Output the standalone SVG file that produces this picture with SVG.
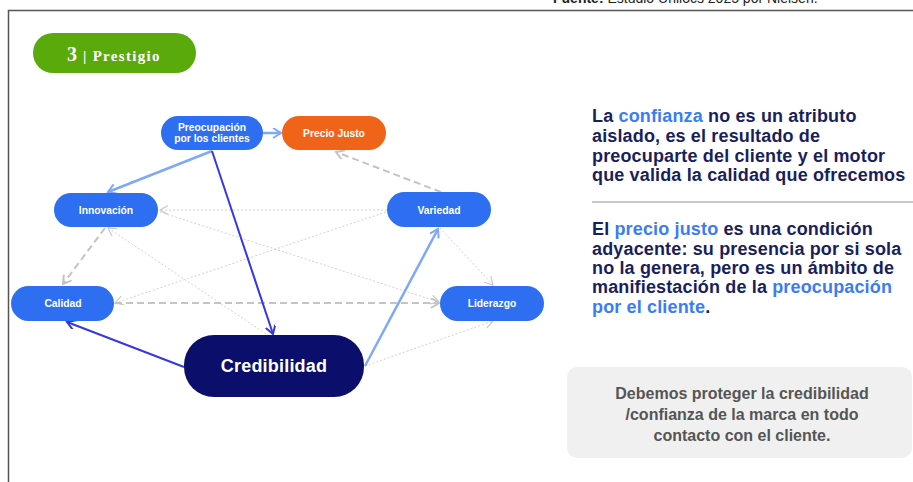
<svg xmlns="http://www.w3.org/2000/svg" width="913" height="482" viewBox="0 0 913 482">
<defs>
<style>
.node{fill:#2D6FF0}
.lbl{font-family:"Liberation Sans",Arial,sans-serif;font-weight:bold;fill:#fff;text-anchor:middle}
.sm{font-size:10.3px}
.lb{fill:none;stroke:#7FA8F8;stroke-width:2.5}
.db{fill:none;stroke:#3636E4;stroke-width:2}
.gd{fill:none;stroke:#C4C4C4;stroke-width:2;stroke-dasharray:7 4}
.gt{fill:none;stroke:#D2D2D2;stroke-width:1;stroke-dasharray:2 2}
.para{font-family:"Liberation Sans",Arial,sans-serif;font-weight:bold;font-size:18px;letter-spacing:0.15px;fill:#1A1F5C}
.hl{fill:#3B7CF5}
</style>
<marker id="aLB" markerUnits="userSpaceOnUse" markerWidth="12" markerHeight="12" refX="9" refY="5" orient="auto"><path d="M1,0 L9,5 L1,10" fill="none" stroke="#7FA8F8" stroke-width="2"/></marker>
<marker id="aDB" markerUnits="userSpaceOnUse" markerWidth="12" markerHeight="12" refX="9" refY="5" orient="auto"><path d="M1,0 L9,5 L1,10" fill="none" stroke="#3636E4" stroke-width="2"/></marker>
<marker id="aGD" markerUnits="userSpaceOnUse" markerWidth="12" markerHeight="12" refX="9" refY="5" orient="auto"><path d="M1,0 L9,5 L1,10" fill="none" stroke="#C4C4C4" stroke-width="2"/></marker>
<marker id="aGT" markerUnits="userSpaceOnUse" markerWidth="12" markerHeight="12" refX="9" refY="5" orient="auto"><path d="M1,0.5 L9,5 L1,9.5" fill="none" stroke="#C8C8C8" stroke-width="1.2"/></marker>
</defs>
<rect width="913" height="482" fill="#fff"/>
<text x="553" y="3" font-family="Liberation Sans,Arial,sans-serif" font-size="14" fill="#222"><tspan font-weight="bold">Fuente:</tspan> Estudio Unilocs 2025 por Nielsen.</text>
<path d="M8.5,482 V10.5 H913" fill="none" stroke="#555" stroke-width="1.5"/>

<g id="header">
<rect x="33" y="33" width="163" height="40" rx="20" fill="#5AAA0B"/>
<text x="67" y="61" font-family="Liberation Serif,Times New Roman,serif" font-weight="bold" font-size="20" fill="#fff">3<tspan font-size="15" dx="6" letter-spacing="1.3">| Prestigio</tspan></text>
</g>

<g id="connectors">
<line class="gt" x1="387" y1="210" x2="160" y2="210" marker-end="url(#aGT)"/>
<line class="gt" x1="386" y1="212" x2="115" y2="303" marker-end="url(#aGT)"/>
<line class="gt" x1="440" y1="228" x2="493" y2="285" marker-end="url(#aGT)"/>
<line class="gt" x1="160" y1="212" x2="439" y2="302" marker-end="url(#aGT)"/>
<line class="gt" x1="266" y1="334" x2="108" y2="228" marker-end="url(#aGT)"/>
<line class="gt" x1="365" y1="366" x2="493" y2="321" marker-end="url(#aGT)"/>
<line class="gd" x1="441" y1="192" x2="336" y2="152" marker-end="url(#aGD)"/>
<line class="gd" x1="105" y1="228" x2="63" y2="284" marker-end="url(#aGD)"/>
<line class="gd" x1="115" y1="303" x2="439" y2="303" marker-end="url(#aGD)"/>
<line class="lb" x1="263" y1="133" x2="281" y2="133" marker-end="url(#aLB)"/>
<line class="lb" x1="212" y1="151" x2="108" y2="192" marker-end="url(#aLB)"/>
<line class="lb" x1="365" y1="366" x2="438" y2="229" marker-end="url(#aLB)"/>
<line class="db" x1="212" y1="151" x2="273" y2="334" marker-end="url(#aDB)"/>
<line class="db" x1="184" y1="367" x2="67" y2="322" marker-end="url(#aDB)"/>
</g>

<g id="preocupacion">
<rect class="node" x="161" y="116" width="102" height="34" rx="17"/>
<text class="lbl sm" x="212" y="131">Preocupación</text>
<text class="lbl sm" x="212" y="142">por los clientes</text>
</g>
<g id="precio-justo">
<rect x="282" y="116" width="104" height="34" rx="17" fill="#F0641A"/>
<text class="lbl sm" x="334" y="137">Precio Justo</text>
</g>
<g id="innovacion">
<rect class="node" x="54" y="193" width="104" height="34" rx="17"/>
<text class="lbl sm" x="106" y="214">Innovación</text>
</g>
<g id="variedad">
<rect class="node" x="387" y="192" width="104" height="35" rx="17.5"/>
<text class="lbl sm" x="439" y="213.5">Variedad</text>
</g>
<g id="calidad">
<rect class="node" x="11" y="286" width="103" height="35" rx="17.5"/>
<text class="lbl sm" x="63" y="307">Calidad</text>
</g>
<g id="liderazgo">
<rect class="node" x="440" y="286" width="104" height="35" rx="17.5"/>
<text class="lbl sm" x="492" y="307">Liderazgo</text>
</g>
<g id="credibilidad">
<rect x="184" y="335" width="180" height="62" rx="30" fill="#0B0F6B"/>
<text class="lbl" x="274" y="372" font-size="18" letter-spacing="0.2">Credibilidad</text>
</g>

<g id="texto">
<text class="para"><tspan x="592" y="122">La <tspan class="hl">confianza</tspan> no es un atributo</tspan><tspan x="592" y="142">aislado, es el resultado de</tspan><tspan x="592" y="162">preocuparte del cliente y el motor</tspan><tspan x="592" y="181">que valida la calidad que ofrecemos</tspan></text>
<line x1="592" y1="202" x2="913" y2="202" stroke="#C8C8C8" stroke-width="2"/>
<text class="para"><tspan x="592" y="235">El <tspan class="hl">precio justo</tspan> es una condición</tspan><tspan x="592" y="255">adyacente: su presencia por si sola</tspan><tspan x="592" y="274">no la genera, pero es un ámbito de</tspan><tspan x="592" y="293">manifiestación de la <tspan class="hl">preocupación</tspan></tspan><tspan x="592" y="313"><tspan class="hl">por el cliente</tspan>.</tspan></text>
</g>

<g id="nota">
<rect x="567" y="367" width="345" height="91" rx="10" fill="#F0F0F0"/>
<text font-family="Liberation Sans,Arial,sans-serif" font-weight="bold" font-size="16" fill="#555" text-anchor="middle"><tspan x="742" y="399">Debemos proteger la credibilidad</tspan><tspan x="742" y="420">/confianza de la marca en todo</tspan><tspan x="742" y="441">contacto con el cliente.</tspan></text>
</g>
</svg>
